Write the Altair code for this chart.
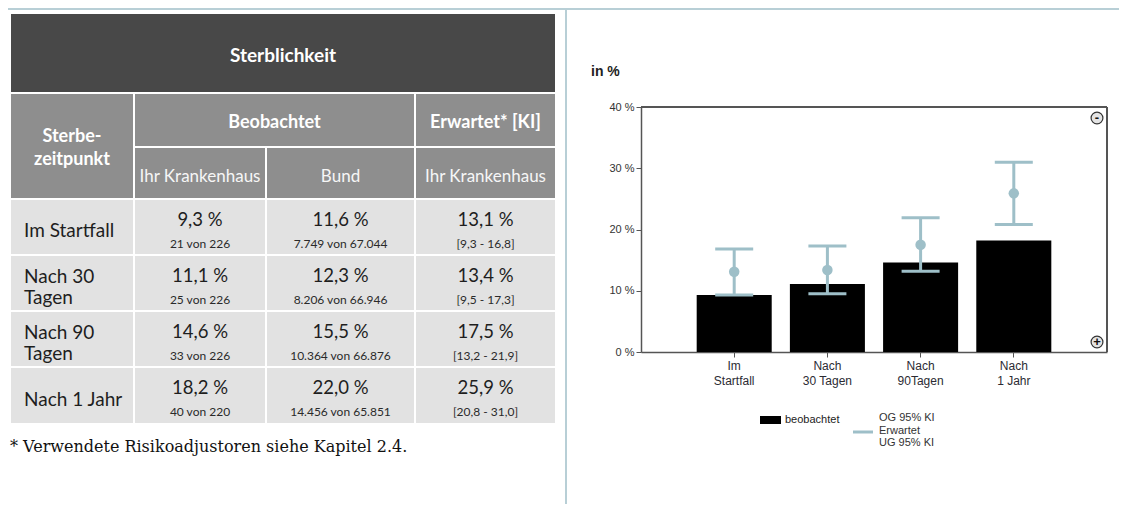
import altair as alt
import pandas as pd

# ---------------- data ----------------
row_labels = ["Im Startfall", "Nach 30\nTagen", "Nach 90\nTagen", "Nach 1 Jahr"]
axis_labels = ["Im Startfall", "Nach 30 Tagen", "Nach 90Tagen", "Nach 1 Jahr"]
beob_rate = [9.3, 11.1, 14.6, 18.2]
beob_count = ["21 von 226", "25 von 226", "33 von 226", "40 von 220"]
bund_rate = [11.6, 12.3, 15.5, 22.0]
bund_count = ["7.749 von 67.044", "8.206 von 66.946", "10.364 von 66.876", "14.456 von 65.851"]
erw_rate = [13.1, 13.4, 17.5, 25.9]
ki_low = [9.3, 9.5, 13.2, 20.8]
ki_high = [16.8, 17.3, 21.9, 31.0]
y_ticks = [0, 10, 20, 30, 40]

title_text = "Sterblichkeit"
group_texts = ["Sterbe-\nzeitpunkt", "Beobachtet", "Erwartet* [KI]"]
sub_texts = ["Ihr Krankenhaus", "Bund", "Ihr Krankenhaus"]
footnote = "* Verwendete Risikoadjustoren siehe Kapitel 2.4."
legend_bar = "beobachtet"
legend_line = "OG 95% KI\nErwartet\nUG 95% KI"

# ---------------- layout (page pixels) ----------------
OFF = 8
W, H = 1111, 496
COL = [10, 134, 266, 415, 556]
ROW = [199, 255, 311, 367, 424]
TITLE_Y = [13, 93]
GROUP_Y = [93, 147]
SUB_Y = [147, 199]
PLOT_X = [641, 1107]
PLOT_Y = [352, 107]

DARK = "#484848"
MID = "#8e8e8e"
LIGHT = "#e2e2e2"
BLUE = "#9ebfc8"
FRAME = "#b8cfd6"
AXIS = "#555555"
TFONT = "Lato"
CFONT = "Liberation Sans"


def de(v):
    return f"{v:.1f}".replace(".", ",") + " %"


sx = alt.Scale(domain=[OFF, OFF + W], range=[0, W], nice=False, zero=False)
sy = alt.Scale(domain=[OFF, OFF + H], range=[0, H], nice=False, zero=False)
X = alt.X("x:Q", scale=sx, axis=None)
Y = alt.Y("y:Q", scale=sy, axis=None)

# ---- table cells ----
cells = []
cells.append(dict(x=COL[0], x2=COL[4], y=TITLE_Y[0], y2=TITLE_Y[1], fill=DARK))
cells.append(dict(x=COL[0], x2=COL[1], y=GROUP_Y[0], y2=SUB_Y[1], fill=MID))
cells.append(dict(x=COL[1], x2=COL[3], y=GROUP_Y[0], y2=GROUP_Y[1], fill=MID))
cells.append(dict(x=COL[3], x2=COL[4], y=GROUP_Y[0], y2=GROUP_Y[1], fill=MID))
for c in range(1, 4):
    cells.append(dict(x=COL[c], x2=COL[c + 1], y=SUB_Y[0], y2=SUB_Y[1], fill=MID))
for r in range(4):
    for c in range(4):
        cells.append(dict(x=COL[c], x2=COL[c + 1], y=ROW[r], y2=ROW[r + 1], fill=LIGHT))
cells_df = pd.DataFrame(cells)

cell_layer = alt.Chart(cells_df).mark_rect(stroke="white", strokeWidth=2).encode(
    x=X, x2="x2:Q", y=Y, y2="y2:Q", color=alt.Color("fill:N", scale=None)
)

ccx = [(COL[i] + COL[i + 1]) / 2 for i in range(4)]


def txt(df, **kw):
    base = dict(baseline="middle", lineBreak="\n")
    base.update(kw)
    return alt.Chart(pd.DataFrame(df)).mark_text(**base).encode(x=X, y=Y, text="t:N")


title_layer = txt(dict(x=[(COL[0] + COL[4]) / 2], y=[56], t=[title_text]),
                  font=TFONT, fontSize=19, fontWeight="bold", color="white")
group_layer = txt(dict(x=[ccx[0], (COL[1] + COL[3]) / 2, ccx[3]], y=[137, 123, 123], t=group_texts),
                  font=TFONT, fontSize=18, fontWeight="bold", color="white", lineHeight=23)
sub_layer = txt(dict(x=ccx[1:], y=[177, 177, 177], t=sub_texts),
                font=TFONT, fontSize=17, fontWeight="normal", color="#f6f6f6")

LH = 21
rowc = []
for i, lab in enumerate(row_labels):
    n = lab.count("\n")
    rowc.append((ROW[i] + ROW[i + 1]) / 2 + 4 - n * LH / 2)
rowlab_layer = txt(dict(x=[24] * 4, y=rowc, t=row_labels),
                   font=TFONT, fontSize=19, color="#1e1e1e", align="left", lineHeight=LH)

vals_x, vals_y, vals_t = [], [], []
cnt_x, cnt_y, cnt_t = [], [], []
for r in range(4):
    ki = "[" + f"{ki_low[r]:.1f}".replace(".", ",") + " - " + f"{ki_high[r]:.1f}".replace(".", ",") + "]"
    for c, (v, s) in enumerate([(beob_rate[r], beob_count[r]), (bund_rate[r], bund_count[r]), (erw_rate[r], ki)]):
        vals_x.append(ccx[c + 1]); vals_y.append(ROW[r] + 21); vals_t.append(de(v))
        cnt_x.append(ccx[c + 1]); cnt_y.append(ROW[r] + 45); cnt_t.append(s)
vals_layer = txt(dict(x=vals_x, y=vals_y, t=vals_t), font=TFONT, fontSize=18.5, color="#1e1e1e")
cnt_layer = txt(dict(x=cnt_x, y=cnt_y, t=cnt_t), font=TFONT, fontSize=12, color="#2a2a2a")

foot_layer = txt(dict(x=[10], y=[452], t=[footnote]), font="DejaVu Serif", fontSize=16,
                 color="#111111", align="left", baseline="alphabetic")

# frame lines
frame_df = pd.DataFrame(dict(x=[OFF, 566], x2=[OFF + W, 566], y=[9, OFF], y2=[9, OFF + H]))
frame_layer = alt.Chart(frame_df).mark_rule(color=FRAME, strokeWidth=2).encode(
    x=X, x2="x2:Q", y=Y, y2="y2:Q")

# chart title, legend, zoom buttons (page-pixel decorations)
unit_layer = txt(dict(x=[591], y=[72], t=["in %"]), font=CFONT, fontSize=14, fontWeight="bold",
                 color="#222222", align="left")
leg_rect = alt.Chart(pd.DataFrame(dict(x=[760], x2=[781], y=[416], y2=[424]))).mark_rect(color="black").encode(
    x=X, x2="x2:Q", y=Y, y2="y2:Q")
leg_rule = alt.Chart(pd.DataFrame(dict(x=[853], x2=[873], y=[432]))).mark_rule(color=BLUE, strokeWidth=3).encode(
    x=X, x2="x2:Q", y=Y)
leg_t1 = txt(dict(x=[785], y=[420], t=[legend_bar]), font=CFONT, fontSize=11, color="#222222", align="left")
leg_t2 = txt(dict(x=[879], y=[418], t=[legend_line]), font=CFONT, fontSize=11, color="#333333",
             align="left", lineHeight=12.5)
btn_df = dict(x=[1097, 1097], y=[118, 342], t=["-", "+"])
btn_pt = alt.Chart(pd.DataFrame(btn_df)).mark_point(shape="circle", filled=False, fill="#e4e4e4", fillOpacity=1,
                                                  stroke="#333333", strokeWidth=1.2, size=140, opacity=1).encode(x=X, y=Y)
btn_t = txt(btn_df, font=CFONT, fontSize=13, fontWeight="bold", color="#111111")

table = alt.layer(frame_layer, cell_layer, title_layer, group_layer, sub_layer, rowlab_layer,
                  vals_layer, cnt_layer, foot_layer, unit_layer, leg_rect, leg_rule, leg_t1, leg_t2,
                  btn_pt, btn_t)

# ---------------- bar chart ----------------
bar_df = pd.DataFrame(dict(cat=axis_labels, beob=beob_rate, erw=erw_rate, lo=ki_low, hi=ki_high))

x_axis = alt.Axis(orient="bottom", offset=-(OFF + H - PLOT_Y[0]), title=None, labelAngle=0,
                  labelExpr="[slice(datum.label, 0, indexof(datum.label, ' ')), slice(datum.label, indexof(datum.label, ' ') + 1)]",
                  labelFont=CFONT, labelFontSize=12, labelColor="#2b2b33", labelLineHeight=15,
                  labelPadding=3, tickSize=5, tickColor=AXIS, domainColor=AXIS, domainWidth=1.5, grid=False)
y_axis = alt.Axis(orient="left", offset=-(PLOT_X[0] - OFF), title=None, values=y_ticks,
                  labelExpr="datum.value + ' %'", labelFont=CFONT, labelFontSize=11, labelColor="#333333",
                  labelPadding=2, tickSize=5, tickColor=AXIS, domainColor=AXIS, domainWidth=1.5, grid=False)
xs = alt.Scale(domain=axis_labels, range=[PLOT_X[0] - OFF, PLOT_X[1] - OFF], paddingInner=0.195, paddingOuter=0.5975)
ys = alt.Scale(domain=[0, 40], range=[PLOT_Y[0] - OFF, PLOT_Y[1] - OFF], nice=False)
XB = alt.X("cat:N", sort=axis_labels, scale=xs, axis=x_axis)

bars = alt.Chart(bar_df).mark_bar(color="black").encode(x=XB, y=alt.Y("beob:Q", scale=ys, axis=y_axis))
err = alt.Chart(bar_df).mark_rule(color=BLUE, strokeWidth=3).encode(
    x=XB, y=alt.Y("lo:Q", scale=ys, axis=y_axis), y2="hi:Q")
cap_lo = alt.Chart(bar_df).mark_tick(color=BLUE, thickness=3, size=38, opacity=1).encode(
    x=XB, y=alt.Y("lo:Q", scale=ys, axis=y_axis))
cap_hi = alt.Chart(bar_df).mark_tick(color=BLUE, thickness=3, size=38, opacity=1).encode(
    x=XB, y=alt.Y("hi:Q", scale=ys, axis=y_axis))
pts = alt.Chart(bar_df).mark_circle(color=BLUE, size=110, opacity=1).encode(
    x=XB, y=alt.Y("erw:Q", scale=ys, axis=y_axis))
frame_top = alt.Chart(bar_df).mark_rule(color=AXIS, strokeWidth=1.5).encode(
    x=alt.value(PLOT_X[0] - OFF), x2=alt.value(PLOT_X[1] - OFF), y=alt.datum(40))
frame_right = alt.Chart(bar_df).mark_rule(color=AXIS, strokeWidth=1.5).encode(
    x=alt.value(PLOT_X[1] - OFF), y=alt.datum(0), y2=alt.datum(40))

barchart = alt.layer(bars, err, cap_lo, cap_hi, pts, frame_top, frame_right)

chart = alt.layer(table, barchart).resolve_scale(x="independent", y="independent").properties(
    width=W, height=H, autosize=alt.AutoSizeParams(type="none"), padding=0, background="white"
).configure_view(stroke=None)

chart.save("out.html", embed_options={"renderer": "svg", "actions": False})
